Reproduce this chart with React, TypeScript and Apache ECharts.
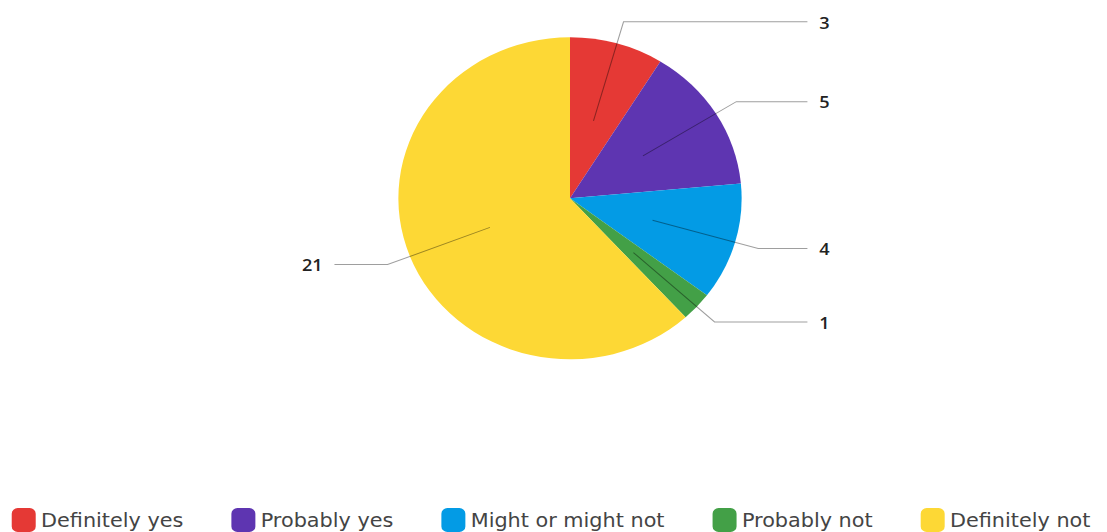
import React, { useEffect, useRef } from "react";
import * as echarts from "echarts";

const categories = ["Definitely yes", "Probably yes", "Might or might not", "Probably not", "Definitely not"];
const values = [3, 5, 4, 1, 21];
const colors = ["#e53935", "#5e35b1", "#039be5", "#43a047", "#fdd835"];

const SX = 1.066;
const W = 1107 / SX;
const H = 532;

export default function App() {
  const ref = useRef<HTMLDivElement>(null);
  useEffect(() => {
    if (!ref.current) return;
    const chart = echarts.init(ref.current, undefined, { renderer: "svg" });
    const data = categories.map((name, i) => ({ name, value: values[i] }));
    const center = [570 / SX, 198.3];
    const rightEdge = W - 830 / SX;
    const leftEdge = 302 / SX;
    chart.setOption({
      animation: false,
      color: colors,
      legend: {
        data: categories,
        left: 6,
        top: 503,
        icon: "roundRect",
        itemWidth: 22.5,
        itemHeight: 24,
        itemGap: 45,
        textStyle: { fontFamily: "DejaVu Sans", fontSize: 19.5, color: "#444" },
        selectedMode: false,
      },
      series: [
        {
          type: "pie",
          z: 1,
          center,
          radius: [0, 161],
          startAngle: 90,
          clockwise: true,
          data: data.map((d, i) => ({ ...d, itemStyle: { color: colors[i] } })),
          label: { show: false },
          labelLine: { show: false },
          silent: true,
          emphasis: { disabled: true },
        },
        {
          type: "pie",
          z: 5,
          center,
          radius: [0, 80.5],
          startAngle: 90,
          clockwise: true,
          silent: true,
          emphasis: { disabled: true },
          data: data.map((d) => ({
            ...d,
            itemStyle: { color: "rgba(0,0,0,0)" },
            label: { edgeDistance: d.value > 10 ? leftEdge : rightEdge },
          })),
          avoidLabelOverlap: true,
          label: {
            show: true,
            position: "outside",
            formatter: "{c}",
            alignTo: "edge",
            distanceToLabelLine: 11,
            fontFamily: "Open Sans",
            fontSize: 17,
            fontWeight: 600,
            color: "#222",
          },
          labelLine: {
            show: true,
            length: 103,
            length2: 45,
            lineStyle: { color: "rgba(0,0,0,0.38)", width: 1 },
          },
        },
      ],
    });
    return () => chart.dispose();
  }, []);
  return (
    <div
      ref={ref}
      style={{
        position: "absolute",
        left: 0,
        top: 0,
        width: W + "px",
        height: H + "px",
        transform: `scaleX(${SX})`,
        transformOrigin: "0 0",
      }}
    />
  );
}
